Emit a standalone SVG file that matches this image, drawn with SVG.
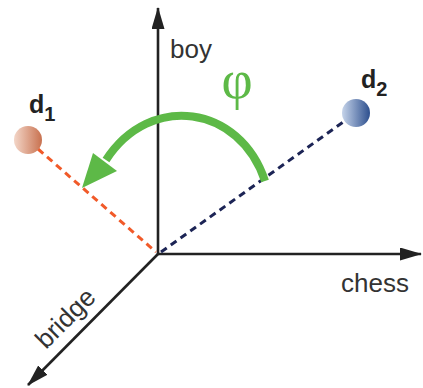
<svg xmlns="http://www.w3.org/2000/svg" width="423" height="388" viewBox="0 0 423 388">
<style>
.axis{stroke:#222;stroke-width:2.6;fill:none}
.lbl{font-family:"Liberation Sans",Arial,sans-serif;font-size:26px;fill:#333}
.dl{font-family:"Liberation Sans",Arial,sans-serif;font-weight:bold;font-size:25px;fill:#222}
.sub{font-size:20px}
</style>
<defs>
<marker id="ah" markerUnits="userSpaceOnUse" markerWidth="22" markerHeight="13" viewBox="0 0 22 13" refX="21" refY="6.5" orient="auto"><path d="M0,0 L22,6.5 L0,13 z" fill="#222"/></marker>
<linearGradient id="g1" x1="0" y1="0" x2="1" y2="0"><stop offset="0" stop-color="#f3d6c8"/><stop offset="1" stop-color="#c8714f"/></linearGradient>
<linearGradient id="g2" x1="0" y1="0" x2="1" y2="0"><stop offset="0" stop-color="#c6d4ea"/><stop offset="1" stop-color="#2d4f8e"/></linearGradient>
</defs>
<g id="connectors">
<line class="axis" x1="158" y1="254" x2="158" y2="8" marker-end="url(#ah)"/>
<line class="axis" x1="157" y1="254" x2="421" y2="254" marker-end="url(#ah)"/>
<line class="axis" x1="158" y1="254" x2="28" y2="385" marker-end="url(#ah)"/>
<line x1="38" y1="149" x2="156" y2="252" stroke="#f15a29" stroke-width="3" stroke-dasharray="7,5"/>
<line x1="161" y1="252" x2="346" y2="120" stroke="#1c2455" stroke-width="3" stroke-dasharray="7,5"/>
<path d="M265,181 C240,105 150,92 106,160" fill="none" stroke="#5db947" stroke-width="8"/>
<polygon points="82,188 93,153 117,171" fill="#5db947"/>
</g>
<g id="d1"><circle cx="28" cy="140" r="14" fill="url(#g1)"/><text class="dl" x="29" y="113">d<tspan class="sub" dy="8">1</tspan></text></g>
<g id="d2"><circle cx="356" cy="113" r="14" fill="url(#g2)"/><text class="dl" x="361" y="88">d<tspan class="sub" dy="8">2</tspan></text></g>
<g id="phi"><text x="237" y="98" text-anchor="middle" font-family="'Liberation Serif','Times New Roman',serif" font-size="54" fill="#5db947">φ</text></g>
<g id="labels">
<text class="lbl" x="170" y="58">boy</text>
<text class="lbl" x="341" y="292">chess</text>
<text class="lbl" transform="translate(46,350) rotate(-45)">bridge</text>
</g>
</svg>
